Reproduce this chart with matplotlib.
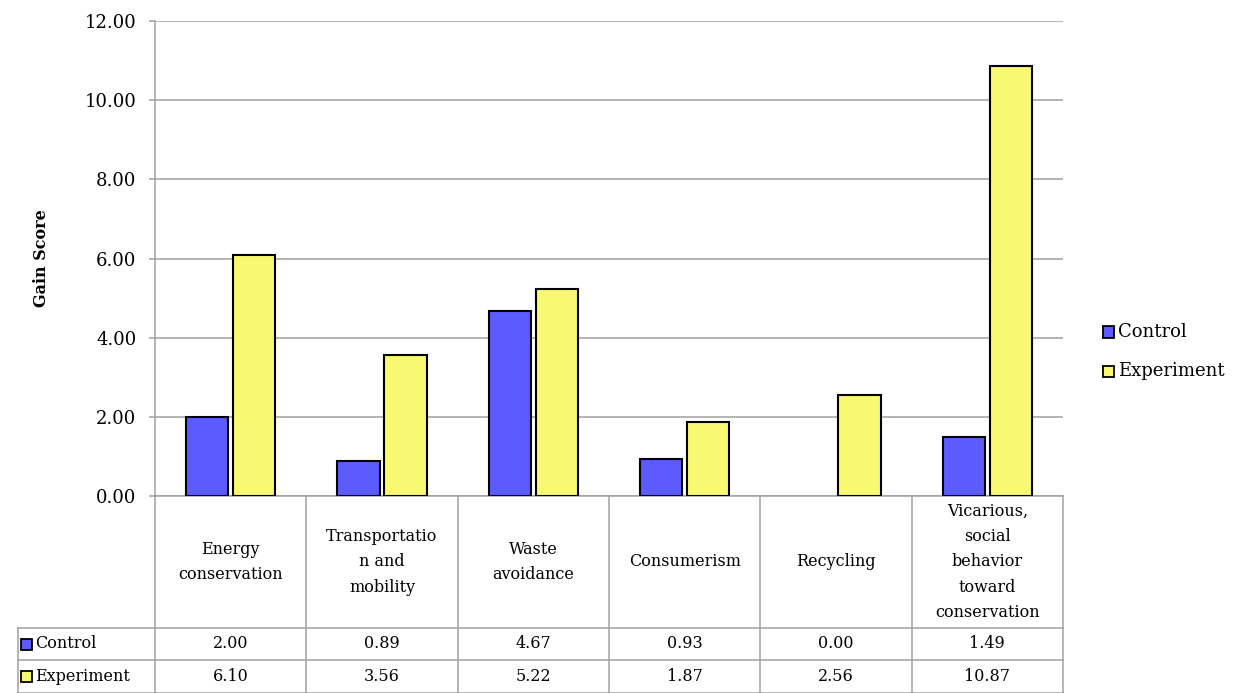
import matplotlib

matplotlib.use("Agg")
import matplotlib.pyplot as plt
from matplotlib.lines import Line2D
from matplotlib.patches import Rectangle
from matplotlib.transforms import blended_transform_factory

categories = [
    "Energy\nconservation",
    "Transportatio\nn and\nmobility",
    "Waste\navoidance",
    "Consumerism",
    "Recycling",
    "Vicarious,\nsocial\nbehavior\ntoward\nconservation",
]
series_names = ["Control", "Experiment"]
control = [2.00, 0.89, 4.67, 0.93, 0.00, 1.49]
experiment = [6.10, 3.56, 5.22, 1.87, 2.56, 10.87]
y_ticks = [0, 2, 4, 6, 8, 10, 12]

BLUE = "#5B5BFF"
YELLOW = "#F9F871"
GRID = "#A0A0A0"

plt.rcParams["font.family"] = "DejaVu Serif"

W, H = 1236, 693
fig = plt.figure(figsize=(W / 100, H / 100), dpi=100)
ax = fig.add_axes([155 / W, 1 - 496 / H, 908 / W, 475 / H])

x = list(range(len(categories)))
bw = 0.28
off = 0.155
# zero-height bars get no outline, like the original
ax.bar([i - off for i in x], control, width=bw, color=BLUE, edgecolor="black",
       linewidth=[1.5 if v else 0 for v in control], zorder=3)
ax.bar([i + off for i in x], experiment, width=bw, color=YELLOW, edgecolor="black",
       linewidth=[1.5 if v else 0 for v in experiment], zorder=3)

ax.set_xlim(-0.5, len(categories) - 0.5)
ax.set_ylim(0, 12)
ax.set_yticks(y_ticks)
ax.set_yticklabels([f"{v:.2f}" for v in y_ticks], fontsize=13)
ax.set_xticks([])
ax.yaxis.grid(True, color=GRID, linewidth=1.1, zorder=0)
ax.tick_params(axis="y", length=4.3, color=GRID, width=1.1, pad=9)
for side in ["top", "right", "bottom"]:
    ax.spines[side].set_visible(False)
ax.spines["left"].set_color(GRID)
ax.spines["left"].set_linewidth(1.1)
fig.text(42 / W, 1 - 258 / H, "Gain Score", rotation=90, ha="center",
         va="center", fontsize=11.5, fontweight="bold")

# data table under the plot
tr = blended_transform_factory(ax.transData, ax.transAxes)
px = 475.0
col = 151.33
y_cat = -132 / px
y_c = -164 / px
y_e = -197 / px
x_left = -0.5 - 137 / col
n = len(categories)


def hline(x0, x1, y):
    ax.add_line(Line2D([x0, x1], [y, y], transform=tr, color=GRID,
                       linewidth=1.1, clip_on=False))


def vline(xx, y0, y1):
    ax.add_line(Line2D([xx, xx], [y0, y1], transform=tr, color=GRID,
                       linewidth=1.1, clip_on=False))


hline(-0.5, n - 0.5, 0)
hline(x_left, n - 0.5, y_cat)
hline(x_left, n - 0.5, y_c)
hline(x_left, n - 0.5, y_e)
for i in range(n + 1):
    vline(i - 0.5, 0, y_e)
vline(x_left, y_cat, y_e)

for i, cat in enumerate(categories):
    ax.text(i, y_cat / 2, cat, transform=tr, ha="center", va="center",
            fontsize=11.5, linespacing=1.65)
    ax.text(i, (y_cat + y_c) / 2, f"{control[i]:.2f}", transform=tr,
            ha="center", va="center", fontsize=11.5)
    ax.text(i, (y_c + y_e) / 2, f"{experiment[i]:.2f}", transform=tr,
            ha="center", va="center", fontsize=11.5)

for name, color, (y0, y1) in zip(series_names, [BLUE, YELLOW],
                                  [(y_cat, y_c), (y_c, y_e)]):
    ym = (y0 + y1) / 2
    ax.add_patch(Rectangle((x_left + 3 / col, ym - 5.5 / px), 11 / col, 11 / px,
                           transform=tr, facecolor=color, edgecolor="black",
                           linewidth=1.3, clip_on=False))
    ax.text(x_left + 17 / col, ym, name, transform=tr, ha="left",
            va="center", fontsize=11.5)

# legend on the right
for name, color, yy in zip(series_names, [BLUE, YELLOW], [332, 371]):
    fig.patches.append(Rectangle((1103 / W, 1 - (yy + 5.5) / H), 11 / W, 11 / H,
                                 transform=fig.transFigure, facecolor=color,
                                 edgecolor="black", linewidth=1.3))
    fig.text(1118 / W, 1 - yy / H, name, ha="left", va="center", fontsize=13)

fig.savefig("out.png", dpi=100)
